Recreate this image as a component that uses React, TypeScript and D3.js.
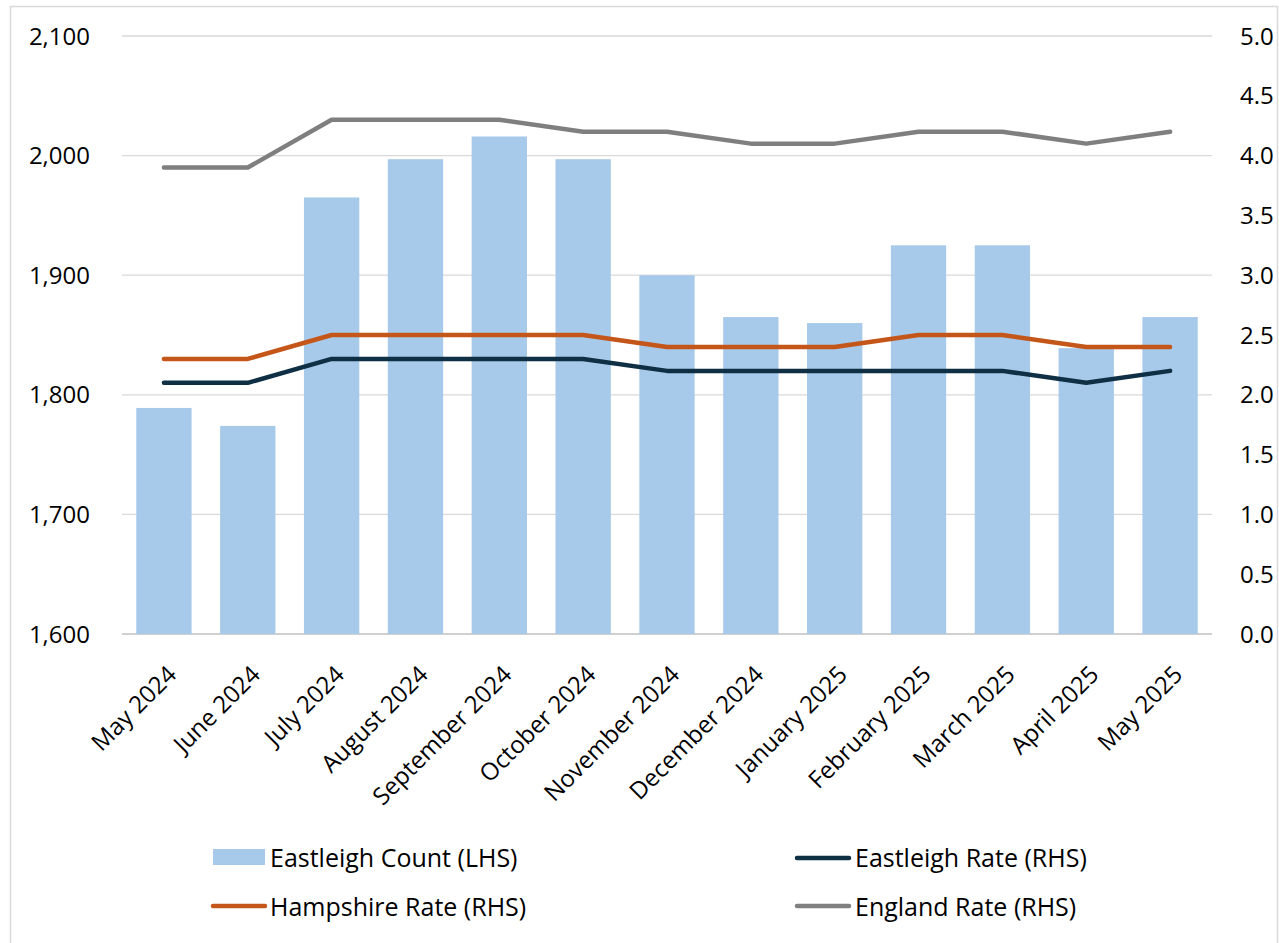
import React from "react";
import * as d3 from "d3";

const months = ["May 2024","June 2024","July 2024","August 2024","September 2024","October 2024","November 2024","December 2024","January 2025","February 2025","March 2025","April 2025","May 2025"];
const eastleighCount = [1789,1774,1965,1997,2016,1997,1900,1865,1860,1925,1925,1839,1865];
const eastleighRate = [2.1,2.1,2.3,2.3,2.3,2.3,2.2,2.2,2.2,2.2,2.2,2.1,2.2];
const hampshireRate = [2.3,2.3,2.5,2.5,2.5,2.5,2.4,2.4,2.4,2.5,2.5,2.4,2.4];
const englandRate = [3.9,3.9,4.3,4.3,4.3,4.2,4.2,4.1,4.1,4.2,4.2,4.1,4.2];
const leftTicks = [1600,1700,1800,1900,2000,2100];
const rightTicks = [0,0.5,1,1.5,2,2.5,3,3.5,4,4.5,5];

const FONT = "'Open Sans', 'Liberation Sans', sans-serif";

export default function App() {
  const W = 1279, H = 943;
  const left = 122, right = 1212, top = 36, bottom = 634;
  const x = d3.scaleBand<string>().domain(months).range([left, right]).paddingInner(0.34).paddingOuter(0.17);
  const yL = d3.scaleLinear().domain([1600, 2100]).range([bottom, top]);
  const yR = d3.scaleLinear().domain([0, 5]).range([bottom, top]);
  const cx = (m: string) => (x(m) as number) + x.bandwidth() / 2;
  const line = (vals: number[]) =>
    d3.line<number>().x((_, i) => cx(months[i])).y((v) => yR(v))(vals) as string;

  const lines = [
    { vals: englandRate, color: "#7F7F7F" },
    { vals: hampshireRate, color: "#C4561A" },
    { vals: eastleighRate, color: "#0E2F44" },
  ];

  return (
    <svg width={W} height={H} style={{ position: "absolute", left: 0, top: 0, fontFamily: FONT }}>
      <rect x={0} y={0} width={W} height={H} fill="#fff" />
      <rect x={10.5} y={6.5} width={1267} height={940} fill="none" stroke="#D9D9D9" strokeWidth={1.5} />
      {leftTicks.map((t) => (
        <g key={"l" + t}>
          <line x1={left} x2={right} y1={yL(t)} y2={yL(t)} stroke={t === 1600 ? "#D0D0D0" : "#D9D9D9"} strokeWidth={t === 1600 ? 2 : 1.3} />
          <text x={90} y={yL(t)} dy="0.36em" textAnchor="end" fontSize={24} fill="#000">{d3.format(",")(t)}</text>
        </g>
      ))}
      {rightTicks.map((t) => (
        <text key={"r" + t} x={1240} y={yR(t)} dy="0.36em" textAnchor="start" fontSize={24} fill="#000">{d3.format(".1f")(t)}</text>
      ))}
      {months.map((m, i) => (
        <rect key={m} x={x(m)} y={yL(eastleighCount[i])} width={x.bandwidth()} height={bottom - yL(eastleighCount[i])} fill="#A7CAEB" />
      ))}
      {lines.map((l, i) => (
        <path key={i} d={line(l.vals)} fill="none" stroke={l.color} strokeWidth={4.5} strokeLinecap="round" strokeLinejoin="round" />
      ))}
      {months.map((m) => (
        <text key={"t" + m} transform={`translate(${cx(m) + 14},${676}) rotate(-45)`} textAnchor="end" fontSize={24} fill="#000">{m}</text>
      ))}
      <g fontSize={25} fill="#000">
        <rect x={213} y={849} width={52} height={16} fill="#A7CAEB" />
        <text x={270} y={858} dy="0.36em">Eastleigh Count (LHS)</text>
        <line x1={213} x2={265} y1={906} y2={906} stroke="#C4561A" strokeWidth={4.5} strokeLinecap="round" />
        <text x={270} y={907} dy="0.36em">Hampshire Rate (RHS)</text>
        <line x1={797} x2={849} y1={858} y2={858} stroke="#0E2F44" strokeWidth={4.5} strokeLinecap="round" />
        <text x={855} y={858} dy="0.36em">Eastleigh Rate (RHS)</text>
        <line x1={797} x2={849} y1={906} y2={906} stroke="#7F7F7F" strokeWidth={4.5} strokeLinecap="round" />
        <text x={855} y={907} dy="0.36em">England Rate (RHS)</text>
      </g>
    </svg>
  );
}
